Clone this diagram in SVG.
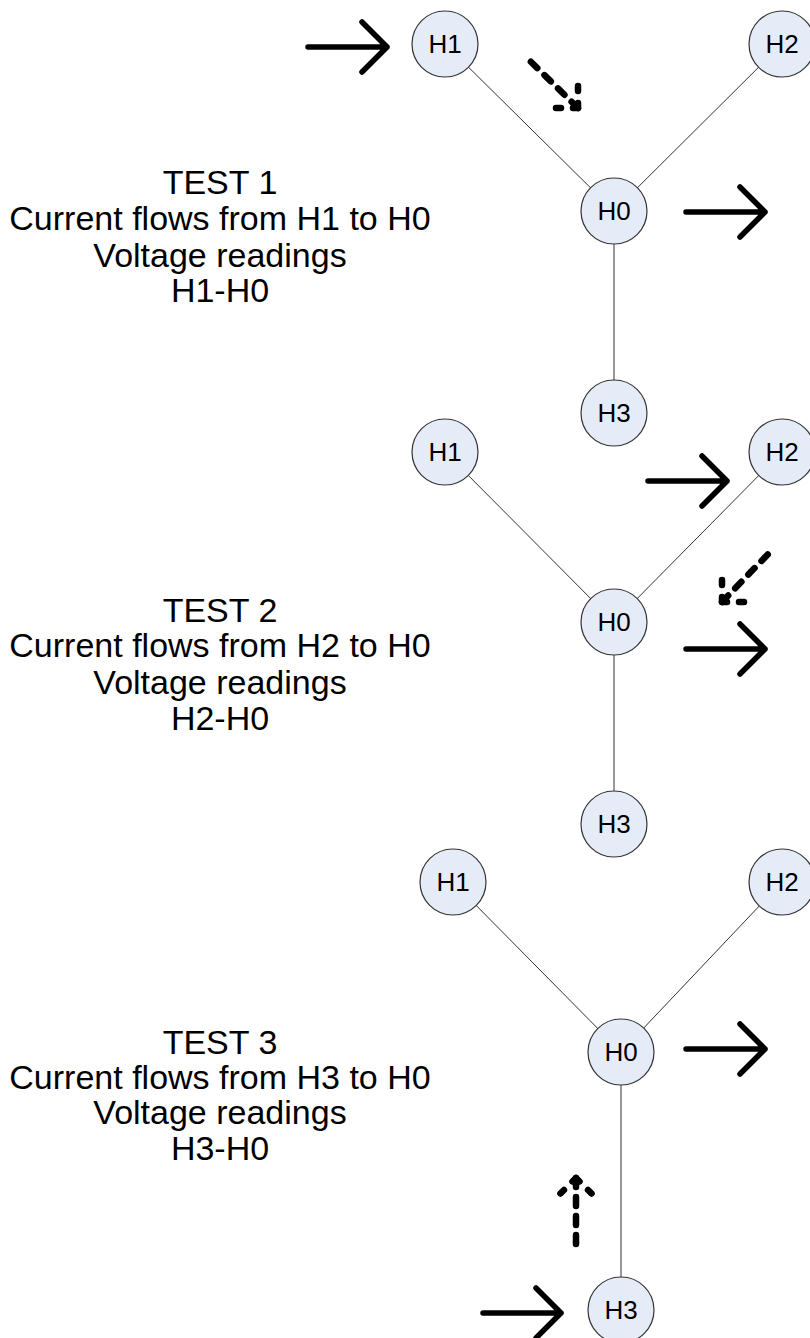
<svg xmlns="http://www.w3.org/2000/svg" width="810" height="1338" viewBox="0 0 810 1338">
<style>
.edge{stroke:#333;stroke-width:1;fill:none}
.node circle{fill:#e6ecf7;stroke:#333;stroke-width:1.2}
.node text{font-family:"Liberation Sans",Arial,sans-serif;font-size:26px;fill:#000;text-anchor:middle;dominant-baseline:central}
.big{stroke:#000;stroke-width:5.5;fill:none;stroke-linecap:round;stroke-linejoin:round}
.dash{stroke:#000;stroke-width:6.5;fill:none;stroke-linecap:round;stroke-dasharray:9 10}
.dh{stroke:#000;stroke-width:6.5;fill:none;stroke-linecap:round;stroke-dasharray:5 12}
.lbl{font-family:"Liberation Sans",Arial,sans-serif;font-size:34px;fill:#000;text-anchor:middle}
</style>
<rect width="810" height="1338" fill="#fff"/>
<g id="connectors">
<line class="edge" x1="445" y1="44" x2="614" y2="211"/>
<line class="edge" x1="782" y1="44" x2="614" y2="211"/>
<line class="edge" x1="614" y1="211" x2="614" y2="413"/>
<line class="edge" x1="445" y1="452" x2="614" y2="622"/>
<line class="edge" x1="782" y1="452" x2="614" y2="622"/>
<line class="edge" x1="614" y1="622" x2="614" y2="824"/>
<line class="edge" x1="453" y1="882" x2="621" y2="1052"/>
<line class="edge" x1="782" y1="882" x2="621" y2="1052"/>
<line class="edge" x1="621" y1="1052" x2="621" y2="1310"/>
</g>
<g id="arrows">
<path class="big" d="M308,47 H387 M362,22 L387,47 L362,72"/>
<path class="big" d="M686,212 H765 M740,187 L765,212 L740,237"/>
<path class="big" d="M648,481 H727 M702,456 L727,481 L702,506"/>
<path class="big" d="M686,649 H765 M740,624 L765,649 L740,674"/>
<path class="big" d="M686,1049 H765 M740,1024 L765,1049 L740,1074"/>
<path class="big" d="M483,1313 H561 M536,1288 L561,1313 L536,1338"/>
<path class="dash" d="M578,108 L527,58"/>
<path class="dh" d="M578,108 L578,80 M578,108 L550,108"/>
<path class="dash" d="M722,602 L771,551"/>
<path class="dh" d="M722,602 L722,574 M722,602 L750,602"/>
<path class="dash" d="M576,1178 L576,1252"/>
<path class="dh" d="M576,1178 L556,1198 M576,1178 L596,1198"/>
</g>
<g id="t1-H1" class="node"><circle cx="445" cy="44" r="33"/><text x="445" y="44">H1</text></g>
<g id="t1-H2" class="node"><circle cx="782" cy="44" r="33"/><text x="782" y="44">H2</text></g>
<g id="t1-H0" class="node"><circle cx="614" cy="211" r="33"/><text x="614" y="211">H0</text></g>
<g id="t1-H3" class="node"><circle cx="614" cy="413" r="33"/><text x="614" y="413">H3</text></g>
<g id="t2-H1" class="node"><circle cx="445" cy="452" r="33"/><text x="445" y="452">H1</text></g>
<g id="t2-H2" class="node"><circle cx="782" cy="452" r="33"/><text x="782" y="452">H2</text></g>
<g id="t2-H0" class="node"><circle cx="614" cy="622" r="33"/><text x="614" y="622">H0</text></g>
<g id="t2-H3" class="node"><circle cx="614" cy="824" r="33"/><text x="614" y="824">H3</text></g>
<g id="t3-H1" class="node"><circle cx="453" cy="882" r="33"/><text x="453" y="882">H1</text></g>
<g id="t3-H2" class="node"><circle cx="782" cy="882" r="33"/><text x="782" y="882">H2</text></g>
<g id="t3-H0" class="node"><circle cx="621" cy="1052" r="33"/><text x="621" y="1052">H0</text></g>
<g id="t3-H3" class="node"><circle cx="621" cy="1310" r="33"/><text x="621" y="1310">H3</text></g>
<g id="label1"><text class="lbl" x="220" y="194">TEST 1</text><text class="lbl" x="220" y="230">Current flows from H1 to H0</text><text class="lbl" x="220" y="267">Voltage readings</text><text class="lbl" x="220" y="302">H1-H0</text></g>
<g id="label2"><text class="lbl" x="220" y="622">TEST 2</text><text class="lbl" x="220" y="657">Current flows from H2 to H0</text><text class="lbl" x="220" y="694">Voltage readings</text><text class="lbl" x="220" y="730">H2-H0</text></g>
<g id="label3"><text class="lbl" x="220" y="1054">TEST 3</text><text class="lbl" x="220" y="1089">Current flows from H3 to H0</text><text class="lbl" x="220" y="1124">Voltage readings</text><text class="lbl" x="220" y="1160">H3-H0</text></g>
</svg>
